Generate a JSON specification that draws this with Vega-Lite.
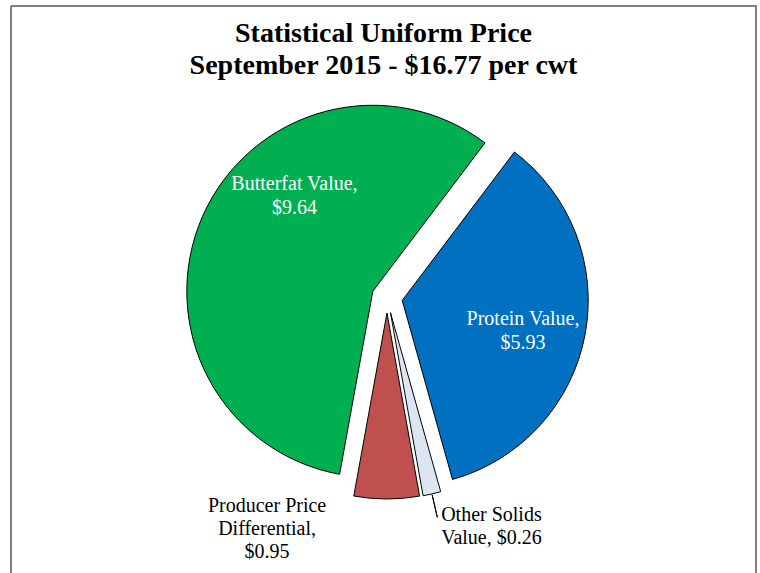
{
  "$schema": "https://vega.github.io/schema/vega-lite/v6.json",
  "width": 745,
  "height": 567,
  "autosize": {"type": "none"},
  "padding": {"left": 11, "top": 6, "right": 4, "bottom": 0},
  "background": "white",
  "view": {"stroke": "#808080", "strokeWidth": 2, "strokeDash": [1312, 745, 567, 0]},
  "title": {
    "text": ["Statistical Uniform Price", "September 2015 - $16.77 per cwt"],
    "font": "Liberation Serif",
    "fontSize": 28,
    "fontWeight": "bold",
    "color": "black",
    "anchor": "middle",
    "frame": "group",
    "baseline": "alphabetic",
    "offset": -96,
    "lineHeight": 32
  },
  "data": {
    "values": [
      {"component": "Protein Value", "value": 5.93, "order": 1, "label": "Protein Value,\n$5.93"},
      {"component": "Other Solids Value", "value": 0.26, "order": 2, "label": "Other Solids\nValue, $0.26"},
      {"component": "Producer Price Differential", "value": 0.95, "order": 3, "label": "Producer Price\nDifferential,\n$0.95"},
      {"component": "Butterfat Value", "value": 9.64, "order": 4, "label": "Butterfat Value,\n$9.64"}
    ]
  },
  "encoding": {
    "theta": {"field": "value", "type": "quantitative", "stack": true, "scale": {"range": [0.6475, 6.9307]}},
    "order": {"field": "order", "type": "quantitative"}
  },
  "layer": [
    {
      "mark": {
        "type": "arc",
        "radius": 186,
        "stroke": "black",
        "strokeWidth": 1,
        "xOffset": {"expr": "3.5 + 15.5*sin(scale('theta', (datum.value_start + datum.value_end)/2))"},
        "yOffset": {"expr": "8 - 15.5*cos(scale('theta', (datum.value_start + datum.value_end)/2))"}
      },
      "encoding": {
        "color": {
          "field": "component",
          "type": "nominal",
          "scale": {
            "domain": ["Protein Value", "Other Solids Value", "Producer Price Differential", "Butterfat Value"],
            "range": ["#0070C0", "#DCE6F2", "#C0504D", "#00B050"]
          },
          "legend": null
        }
      }
    },
    {
      "mark": {
        "type": "arc",
        "radius": 210,
        "radius2": 187,
        "padAngle": 0.3,
        "fillOpacity": 0,
        "stroke": "black",
        "strokeWidth": 1,
        "xOffset": {"expr": "3.5 + 15.5*sin(scale('theta', (datum.value_start + datum.value_end)/2))"},
        "yOffset": {"expr": "8 - 15.5*cos(scale('theta', (datum.value_start + datum.value_end)/2))"}
      },
      "encoding": {
        "strokeOpacity": {"condition": {"test": "datum.component === 'Other Solids Value'", "value": 1}, "value": 0}
      }
    },
    {
      "mark": {
        "type": "text", "radius": 123.6, "thetaOffset": 0.471, "dy": -12,
        "font": "Liberation Serif", "fontSize": 20, "lineBreak": "\n", "lineHeight": 24,
        "align": "center", "baseline": "middle", "color": "white",
        "xOffset": {"expr": "3.5 + 15.5*sin(scale('theta', (datum.value_start + datum.value_end)/2))"},
        "yOffset": {"expr": "8 - 15.5*cos(scale('theta', (datum.value_start + datum.value_end)/2))"}
      },
      "encoding": {
        "text": {"condition": {"test": "datum.component === 'Butterfat Value'", "field": "label", "type": "nominal"}, "value": ""}
      }
    },
    {
      "mark": {
        "type": "text", "radius": 124.5, "thetaOffset": 0.058, "dy": -12,
        "font": "Liberation Serif", "fontSize": 20, "lineBreak": "\n", "lineHeight": 24,
        "align": "center", "baseline": "middle", "color": "white",
        "xOffset": {"expr": "3.5 + 15.5*sin(scale('theta', (datum.value_start + datum.value_end)/2))"},
        "yOffset": {"expr": "8 - 15.5*cos(scale('theta', (datum.value_start + datum.value_end)/2))"}
      },
      "encoding": {
        "text": {"condition": {"test": "datum.component === 'Protein Value'", "field": "label", "type": "nominal"}, "value": ""}
      }
    },
    {
      "mark": {
        "type": "text", "radius": 247.1, "thetaOffset": 0.505, "dy": -23,
        "font": "Liberation Serif", "fontSize": 20, "lineBreak": "\n", "lineHeight": 23,
        "align": "center", "baseline": "middle", "color": "black",
        "xOffset": {"expr": "3.5 + 15.5*sin(scale('theta', (datum.value_start + datum.value_end)/2))"},
        "yOffset": {"expr": "8 - 15.5*cos(scale('theta', (datum.value_start + datum.value_end)/2))"}
      },
      "encoding": {
        "text": {"condition": {"test": "datum.component === 'Producer Price Differential'", "field": "label", "type": "nominal"}, "value": ""}
      }
    },
    {
      "mark": {
        "type": "text", "radius": 236.1, "thetaOffset": -0.217, "dy": -11.5,
        "font": "Liberation Serif", "fontSize": 20, "lineBreak": "\n", "lineHeight": 23,
        "align": "center", "baseline": "middle", "color": "black",
        "xOffset": {"expr": "3.5 + 15.5*sin(scale('theta', (datum.value_start + datum.value_end)/2))"},
        "yOffset": {"expr": "8 - 15.5*cos(scale('theta', (datum.value_start + datum.value_end)/2))"}
      },
      "encoding": {
        "text": {"condition": {"test": "datum.component === 'Other Solids Value'", "field": "label", "type": "nominal"}, "value": ""}
      }
    },
    {
      "data": {"values": [{"note": "$/cwt."}]},
      "mark": {"type": "text", "x": 117, "y": 371, "font": "Liberation Serif", "fontSize": 20, "align": "center", "baseline": "middle", "color": "black"},
      "encoding": {"text": {"field": "note", "type": "nominal"}}
    }
  ]
}
